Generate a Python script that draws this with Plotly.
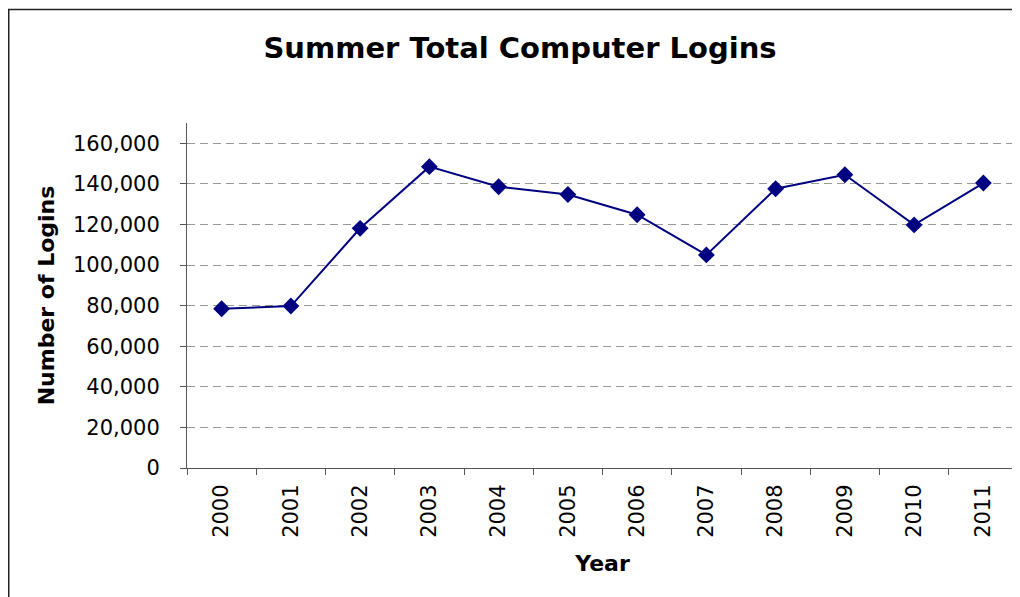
import plotly.graph_objects as go

years = ["2000", "2001", "2002", "2003", "2004", "2005", "2006", "2007", "2008", "2009", "2010", "2011"]
logins = [78500, 79800, 118100, 148500, 138600, 134800, 124800, 105000, 137600, 144500, 119800, 140400]
y_ticks = [0, 20000, 40000, 60000, 80000, 100000, 120000, 140000, 160000]
y_tick_text = ["0", "20,000", "40,000", "60,000", "80,000", "100,000", "120,000", "140,000", "160,000"]

NAVY = "#000080"
FONT = "DejaVu Sans"

W, H = 1012, 589
L, R, T, B = 179, 2, 115, 129
PW, PH = W - L - R, H - T - B

fig = go.Figure()
fig.add_trace(go.Scatter(
    x=years, y=logins, mode="lines+markers",
    line=dict(color=NAVY, width=2),
    marker=dict(symbol="diamond", size=13, color=NAVY),
    showlegend=False,
))

fig.update_layout(
    width=W, height=H,
    margin=dict(l=L, r=R, t=T, b=B),
    paper_bgcolor="white", plot_bgcolor="white",
    font=dict(family=FONT, color="black"),
    title=dict(text="<b>Summer Total Computer Logins</b>", x=512 / W, xanchor="center",
               y=1 - 40 / H, yanchor="middle", font=dict(size=29, family=FONT, color="black")),
    xaxis=dict(
        type="category", range=[-0.5, 11.5],
        showline=True, linecolor="#555555", linewidth=1,
        ticks="outside", ticklen=6, tickcolor="#555555", tickson="boundaries",
        tickangle=-90, tickfont=dict(size=21, family=FONT),
        ticklabelstandoff=7,
        showgrid=False, zeroline=False,
        title=dict(text="<b>Year</b>", font=dict(size=22, family=FONT), standoff=18),
    ),
    yaxis=dict(
        range=[0, 170000], tickvals=y_ticks, ticktext=y_tick_text,
        showline=True, linecolor="#555555", linewidth=1,
        ticks="outside", ticklen=6, tickcolor="#555555",
        tickfont=dict(size=21, family=FONT),
        ticklabelstandoff=16,
        showgrid=True, gridcolor="#999999", gridwidth=1, griddash="8px,5px",
        zeroline=False,
        title=dict(text="<b>Number of Logins</b>", font=dict(size=22, family=FONT), standoff=12),
    ),
    shapes=[dict(type="rect", xref="paper", yref="paper",
                 x0=(0.75 - L) / PW, x1=1.1, y0=-0.6, y1=(H - B - 1.5) / PH,
                 line=dict(color="#222222", width=1.5), fillcolor="rgba(0,0,0,0)", layer="below")],
)

fig.write_html("out.html")
